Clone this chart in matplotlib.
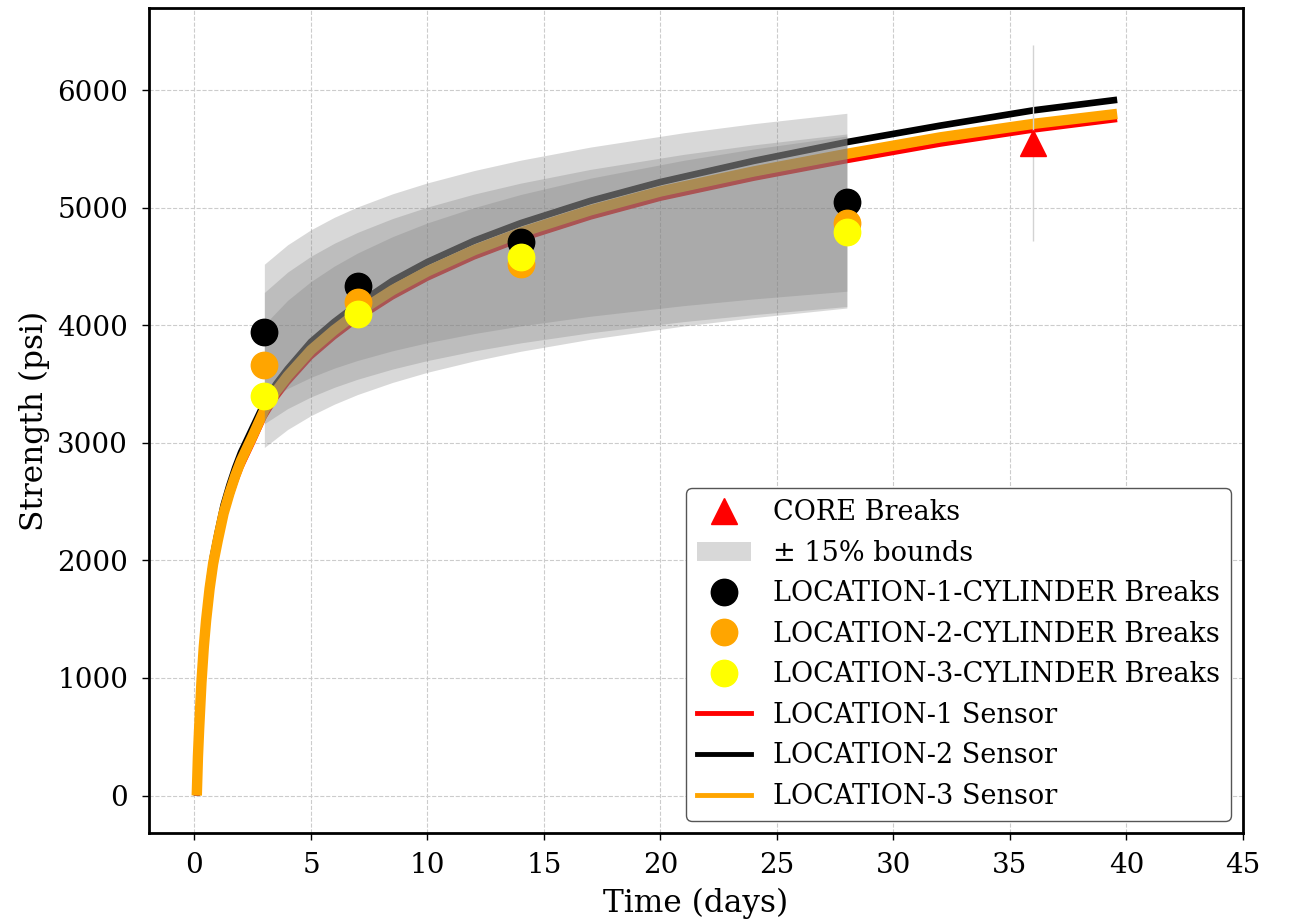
import numpy as np
import matplotlib
matplotlib.use("Agg")
import matplotlib.pyplot as plt
from matplotlib.lines import Line2D
from matplotlib.patches import Patch

plt.rcParams['font.family'] = ['DejaVu Serif']

# ---------------- data ----------------
sensor_days = [0.1, 0.15, 0.2, 0.3, 0.4, 0.5, 0.65, 0.8, 1.0, 1.25, 1.5, 1.75, 2.0,
               2.5, 3.0, 3.5, 4.0, 5.0, 6.0, 7.0, 8.5, 10, 12, 14, 17, 20, 24, 28,
               32, 36, 39.6]
loc1_sensor = [0, 290, 510, 900, 1200, 1430, 1700, 1910, 2110, 2340, 2510, 2660, 2790,
               3000, 3220, 3380, 3510, 3730, 3900, 4050, 4240, 4400, 4580, 4730, 4920,
               5080, 5250, 5400, 5540, 5660, 5750]
loc2_sensor = [0, 370, 610, 1020, 1320, 1560, 1830, 2040, 2240, 2470, 2640, 2790, 2920,
               3130, 3340, 3500, 3630, 3860, 4030, 4180, 4380, 4540, 4720, 4870, 5060,
               5220, 5400, 5560, 5700, 5830, 5920]
loc3_sensor = [0, 330, 560, 960, 1260, 1490, 1760, 1970, 2170, 2400, 2570, 2720, 2850,
               3060, 3280, 3440, 3570, 3790, 3960, 4110, 4300, 4460, 4640, 4790, 4980,
               5140, 5310, 5460, 5600, 5715, 5800]

break_days = [3, 7, 14, 28]
loc1_breaks = [3943, 4339, 4708, 5054]
loc2_breaks = [3659, 4203, 4526, 4870]
loc3_breaks = [3401, 4096, 4580, 4793]

core_day = [36]
core_strength = [5553]
bound_pct = 0.15

# centre curves of the +/-15% bounds (fits to each location's breaks)
band_days = [3, 4, 5, 6, 7, 8.5, 10, 12, 14, 17, 21, 24, 28]
band1_center = [3931, 4075, 4186, 4278, 4355, 4452, 4533, 4624, 4701, 4798, 4904, 4971, 5048]
band2_center = [3722, 3873, 3990, 4086, 4167, 4269, 4354, 4450, 4531, 4633, 4744, 4814, 4895]
band3_center = [3484, 3664, 3803, 3917, 4014, 4135, 4237, 4350, 4447, 4568, 4700, 4784, 4880]

# ---------------- figure ----------------
W, H = 1289, 923
fig = plt.figure(figsize=(W / 100, H / 100), dpi=100)
ax = fig.add_axes([149 / W, (H - 833) / H, (1243 - 149) / W, (833 - 8) / H])

ax.plot(sensor_days, loc2_sensor, color='black', lw=4.8, zorder=2, solid_capstyle='butt')
ax.plot(sensor_days, loc1_sensor, color='red', lw=3.5, zorder=2.1, solid_capstyle='butt')
ax.plot(sensor_days, loc3_sensor, color='orange', lw=7.5, zorder=2.2, solid_capstyle='butt')

for c in (band1_center, band2_center, band3_center):
    c = np.array(c, dtype=float)
    ax.fill_between(band_days, c * (1 - bound_pct), c * (1 + bound_pct),
                    color='gray', alpha=0.3, lw=0, zorder=3)

ax.errorbar(core_day, core_strength, yerr=[s * bound_pct for s in core_strength],
            fmt='none', ecolor='lightgray', elinewidth=1, zorder=3.5)
ax.plot(core_day, core_strength, '^', color='red', ms=19, zorder=5)

ax.plot(break_days, loc1_breaks, 'o', color='black', ms=19, zorder=5)
ax.plot(break_days, loc2_breaks, 'o', color='orange', ms=19, zorder=5.1)
ax.plot(break_days, loc3_breaks, 'o', color='yellow', ms=19, zorder=5.2)

ax.set_xlim(-1.95, 45)
ax.set_ylim(-319, 6701)
ax.set_xticks(range(0, 46, 5))
ax.set_yticks(range(0, 6001, 1000))
ax.grid(True, linestyle='--', color='#cccccc', lw=0.8)
ax.set_axisbelow(True)
for s in ax.spines.values():
    s.set_linewidth(2)
ax.tick_params(labelsize=20, width=1, length=5)
ax.tick_params(axis='x', pad=9)
ax.tick_params(axis='y', pad=10)
ax.set_xlabel('Time (days)', fontsize=22.5, labelpad=6)
ax.set_ylabel('Strength (psi)', fontsize=22.5, labelpad=5)

handles = [
    Line2D([], [], marker='^', color='red', ls='none', ms=19),
    Patch(facecolor='gray', alpha=0.3, edgecolor='none'),
    Line2D([], [], marker='o', color='black', ls='none', ms=19),
    Line2D([], [], marker='o', color='orange', ls='none', ms=19),
    Line2D([], [], marker='o', color='yellow', ls='none', ms=19),
    Line2D([], [], color='red', lw=3.5),
    Line2D([], [], color='black', lw=3.5),
    Line2D([], [], color='orange', lw=3.5),
]
labels = ['CORE Breaks', '± 15% bounds', 'LOCATION-1-CYLINDER Breaks',
          'LOCATION-2-CYLINDER Breaks', 'LOCATION-3-CYLINDER Breaks',
          'LOCATION-1 Sensor', 'LOCATION-2 Sensor', 'LOCATION-3 Sensor']
leg = ax.legend(handles, labels, loc='lower right', fontsize=19.5, framealpha=1,
                edgecolor='#555555', borderaxespad=0.45)
leg.set_zorder(10)

fig.savefig('out.png', dpi=100)
